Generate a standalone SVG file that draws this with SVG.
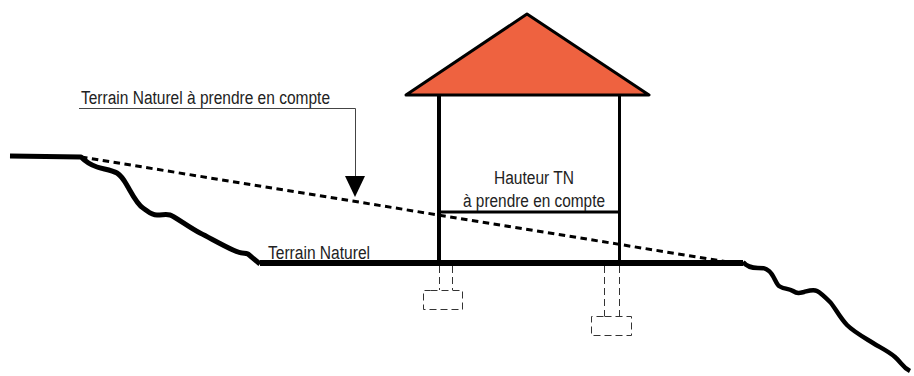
<svg xmlns="http://www.w3.org/2000/svg" width="914" height="376" viewBox="0 0 914 376">
<style>
text{font-family:"Liberation Sans",Arial,sans-serif;font-size:18px;fill:#222}
.g{fill:none;stroke:#000;stroke-linejoin:round;stroke-linecap:butt}
.f{fill:none;stroke:#333;stroke-width:1;stroke-dasharray:7 4}
</style>
<rect width="914" height="376" fill="#fff"/>
<g id="terrain">
<path class="g" stroke-width="5" d="M10 156 L81 157 C86 162 91 165 97 167 S112 170 117 173 S124 180 128 187 S137 204 143 208 S151 215 157 215 S166 214 170 215 S190 228 200 233 S222 245 233 250 S244 252 248 254 L260 264"/>
<path class="g" stroke-width="6" d="M260 263H743"/>
<path class="g" stroke-width="4.500" d="M743 262 C747 267 752 268 758 268 S765 268 769 271 S775 281 778 285 S788 288 793 291 S800 293 804 292 S813 289 817 291 S826 298 830 302 S840 318 847 325 S865 338 873 343 S888 351 895 357 S902 367 910 371"/>
</g>
<g id="pointilles">
<path class="g" stroke-width="3" stroke-dasharray="6.500 4.500" d="M81 157 L728 262"/>
</g>
<g id="maison">
<path d="M406 95 L527 14 L649 95Z" fill="#ee6240" stroke="#000" stroke-width="3" stroke-linejoin="round"/>
<path class="g" stroke-width="4" d="M439 95V263"/>
<path class="g" stroke-width="3" d="M619.500 95V263"/>
<path class="g" stroke-width="3" d="M439 212H620"/>
</g>
<g id="fondations">
<path class="f" d="M439.500 266V290M452.500 266V290"/>
<path class="f" d="M604.500 266V316M619.500 266V316"/>
<path class="f" d="M430.500 290.500H462.500V309.500H423.500V290.500H430.500"/>
<path class="f" d="M604.500 316.500H631.500V335.500H591.500V316.500H604.500"/>
</g>
<g id="connecteurs">
<path d="M79 108.500H355.500V176" fill="none" stroke="#444" stroke-width="1"/>
<path d="M345 176H365L355 197Z" fill="#000"/>
</g>
<g id="labels">
<text x="81" y="104" textLength="249" lengthAdjust="spacingAndGlyphs">Terrain Naturel à prendre en compte</text>
<text x="268" y="259" textLength="102" lengthAdjust="spacingAndGlyphs">Terrain Naturel</text>
<text x="494" y="184" textLength="80" lengthAdjust="spacingAndGlyphs">Hauteur TN</text>
<text x="463" y="207" textLength="142" lengthAdjust="spacingAndGlyphs">à prendre en compte</text>
</g>
</svg>
